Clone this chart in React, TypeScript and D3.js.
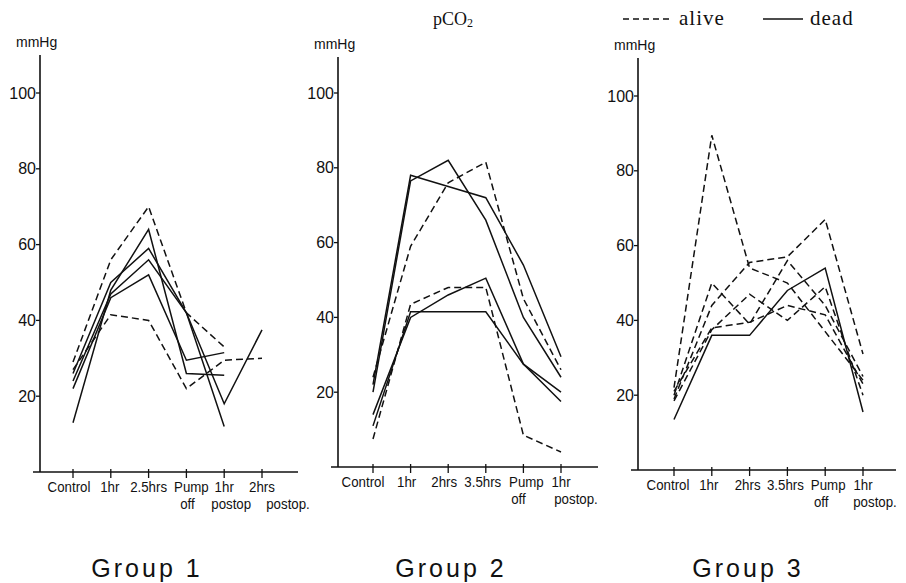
import * as d3 from 'd3'

// time points on each panel
const group1Labels = [['Control'], ['1hr'], ['2.5hrs'], ['Pump', 'off'], ['1hr', 'postop'], ['2hrs', 'postop.']]
const group23Labels = [['Control'], ['1hr'], ['2hrs'], ['3.5hrs'], ['Pump', 'off'], ['1hr', 'postop.']]
const yTicks = [20, 40, 60, 80, 100]

// pCO2 (mmHg) per patient, null = not measured
const group1Alive = [
  [29, 56, 70, 42, 33, null],
  [27, 41.5, 40, 22, 29.5, 30],
]
const group1Dead = [
  [13, 48, 64, 26, 25.5, null],
  [26, 50, 59, 42, 12, null],
  [24, 47, 56, 42, 18, 37.5],
  [22, 46, 52, 29.5, 31.5, null],
]
const group2Alive = [
  [24, 59, 76, 81.5, 45, 26],
  [7.5, 43.5, 48, 48, 8.5, 4],
]
const group2Dead = [
  [22, 78, 75, 72, 54, 29.5],
  [20, 76.5, 82, 66, 40, 24],
  [14, 40, 46, 50.5, 27.5, 17.5],
  [11, 41.5, 41.5, 41.5, 27.5, 20],
]
const group3Alive = [
  [22, 89.5, 54, 50, 37, 24],
  [19, 44, 55.5, 57, 67, 31],
  [20, 50, 39, 56, 44, 25],
  [18.5, 37.5, 47, 40, 49, 20],
  [21, 38, 39.5, 44, 41.5, 23],
]
const group3Dead = [
  [13.5, 36, 36, 48, 54, 15.5],
]

const sans = 'Liberation Sans, Arial, sans-serif'
const serif = 'Liberation Serif, Times New Roman, serif'
const squeeze = 0.95

type Panel = {
  title: string
  labels: string[][]
  alive: (number | null)[][]
  dead: (number | null)[][]
  axisX: number
  axisEnd: number
  firstTick: number
  lastTick: number
  y0: number
  y100: number
  yTop: number
  titleX: number
  dx1: number[]
  dx2: number[]
}

const panels: Panel[] = [
  { title: 'Group 1', labels: group1Labels, alive: group1Alive, dead: group1Dead,
    axisX: 40, axisEnd: 298, firstTick: 73, lastTick: 262, y0: 472, y100: 93, yTop: 55, titleX: 147,
    dx1: [-4, -1, 0, 5, 0, 0], dx2: [0, 0, 0, 1, 7, 26] },
  { title: 'Group 2', labels: group23Labels, alive: group2Alive, dead: group2Dead,
    axisX: 338, axisEnd: 598, firstTick: 373, lastTick: 561, y0: 467, y100: 93, yTop: 57, titleX: 451,
    dx1: [-10, -4, -4, -3, 3, 0], dx2: [0, 0, 0, 0, -5, 15] },
  { title: 'Group 3', labels: group23Labels, alive: group3Alive, dead: group3Dead,
    axisX: 638, axisEnd: 896, firstTick: 674, lastTick: 863, y0: 470, y100: 96, yTop: 58, titleX: 748,
    dx1: [-6, -3, -2, -2, 3, 0], dx2: [0, 0, 0, 0, -4, 12] },
]

function PanelChart({ p }: { p: Panel }) {
  const x = d3.scalePoint<number>()
    .domain(d3.range(p.labels.length))
    .range([p.firstTick, p.lastTick])
  const y = d3.scaleLinear().domain([0, 100]).range([p.y0, p.y100])

  const line = d3.line<number | null>()
    .defined(d => d != null)
    .x((_, i) => x(i) as number)
    .y(d => y(d as number))

  return (
    <g>
      {/* axes */}
      <line x1={p.axisX} x2={p.axisX} y1={p.yTop} y2={p.y0} stroke="#111" strokeWidth={1.6} />
      <line x1={p.axisX - 7} x2={p.axisEnd} y1={p.y0} y2={p.y0} stroke="#111" strokeWidth={1.6} />
      <text x={p.axisX - 24} y={p.yTop - 8} fontFamily={sans} fontSize={14} fill="#111">mmHg</text>

      {yTicks.map(t => (
        <g key={t}>
          <line x1={p.axisX - 4} x2={p.axisX} y1={y(t)} y2={y(t)} stroke="#111" strokeWidth={1.3} />
          <text x={p.axisX - 4} y={y(t) + 5.5} textAnchor="end" fontFamily={sans} fontSize={16} fill="#111">{t}</text>
        </g>
      ))}

      {p.labels.map((lab, i) => (
        <g key={i}>
          <line x1={x(i)} x2={x(i)} y1={p.y0 - 3} y2={p.y0 + 6} stroke="#111" strokeWidth={1.3} />
          {lab.map((s, k) => (
            <text key={k}
              transform={`translate(${(x(i) as number) + (k === 0 ? p.dx1[i] : p.dx2[i])},${p.y0 + 20 + k * 16.5}) scale(${squeeze},1)`}
              textAnchor="middle" fontFamily={sans} fontSize={14} fill="#111">{s}</text>
          ))}
        </g>
      ))}

      {p.alive.map((s, i) => (
        <path key={'a' + i} d={line(s) ?? ''} fill="none" stroke="#111" strokeWidth={1.5} strokeDasharray="7,4" />
      ))}
      {p.dead.map((s, i) => (
        <path key={'d' + i} d={line(s) ?? ''} fill="none" stroke="#111" strokeWidth={1.5} />
      ))}

      <text x={p.titleX} y={577} textAnchor="middle" fontFamily={sans} fontSize={25} letterSpacing={3} fill="#111">{p.title}</text>
    </g>
  )
}

export default function App() {
  return (
    <svg width={906} height={583} style={{ position: 'absolute', left: 0, top: 0, background: '#fff' }}>
      <text x={433} y={25} fontFamily={serif} fontSize={18} fill="#111">
        pCO<tspan fontSize={12} dy={2}>2</tspan>
      </text>
      <line x1={623} x2={673} y1={19} y2={19} stroke="#111" strokeWidth={1.3} strokeDasharray="6,4" />
      <text x={679} y={25} fontFamily={serif} fontSize={21} letterSpacing={1} fill="#111">alive</text>
      <line x1={763} x2={803} y1={19} y2={19} stroke="#111" strokeWidth={1.3} />
      <text x={810} y={25} fontFamily={serif} fontSize={21} letterSpacing={1} fill="#111">dead</text>
      {panels.map((p, i) => <PanelChart key={i} p={p} />)}
    </svg>
  )
}
